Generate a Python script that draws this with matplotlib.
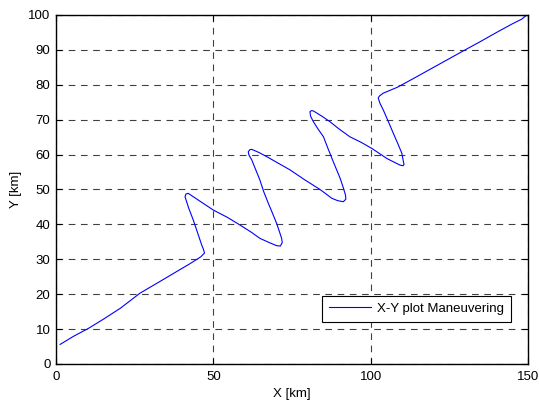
import matplotlib
matplotlib.use("Agg")
import matplotlib.pyplot as plt

# X-Y track of the maneuvering target
x_km = [1.3, 5.5, 10.3, 15.0, 20.5, 26.7, 32.0, 38.0, 42.5, 46.0, 47.2, 46.8,
        46.3, 45.0, 43.6, 42.2, 41.0, 41.3, 42.0, 46.0, 50.0, 54.5, 58.5,
        62.0, 64.8, 67.5, 70.1, 71.3, 71.9, 71.7, 70.9, 70.1, 68.8, 67.5,
        66.0, 64.8, 63.5, 62.2, 61.3, 61.1, 61.6, 62.2, 64.5, 67.0, 70.5,
        74.4, 79.0, 83.9, 86.0, 87.6, 89.5, 91.3, 92.1, 92.0, 91.2, 90.3,
        89.2, 88.1, 86.5, 85.0, 83.3, 81.8, 80.9, 80.7, 81.2, 81.8, 84.5,
        87.1, 90.0, 93.4, 97.0, 100.3, 102.8, 105.1, 107.3, 109.3, 110.3,
        110.6, 110.4, 109.9, 108.6, 107.2, 105.6, 104.0, 103.0, 102.4, 102.8,
        104.0, 108.5, 113.6, 118.8, 124.2, 129.4, 134.7, 140.0, 145.3, 148.0,
        149.6]
y_km = [5.6, 7.9, 10.2, 12.8, 16.0, 20.3, 23.1, 26.3, 28.7, 30.7, 31.8, 33.0,
        34.1, 37.6, 41.3, 44.6, 47.9, 48.7, 48.9, 46.5, 44.1, 42.0, 39.8,
        37.8, 36.0, 34.9, 33.9, 33.8, 34.8, 36.0, 38.2, 40.3, 43.2, 46.0,
        49.4, 52.7, 55.6, 58.5, 59.9, 60.8, 61.4, 61.5, 60.6, 59.4, 57.6,
        55.6, 52.8, 50.0, 48.6, 47.5, 46.8, 46.5, 47.2, 48.4, 50.8, 53.2,
        55.6, 58.0, 61.6, 65.1, 67.3, 69.4, 71.0, 72.3, 72.6, 72.5, 71.0,
        69.4, 67.3, 65.1, 63.5, 61.8, 60.3, 58.9, 57.9, 57.0, 56.8, 57.2,
        58.0, 60.4, 63.2, 66.1, 69.5, 72.8, 74.6, 76.2, 76.8, 77.6, 79.3,
        81.8, 84.4, 87.1, 89.7, 92.3, 95.0, 97.6, 98.8, 100.0]

x_ticks = [0, 50, 100, 150]
y_ticks = list(range(0, 101, 10))

plt.rcParams['font.family'] = ['Liberation Sans', 'DejaVu Sans']
plt.rcParams['font.size'] = 9.5

fig = plt.figure(figsize=(5.39, 4.03), dpi=100)
ax = fig.add_axes([0.1039, 0.0968, 0.8757, 0.866])

ax.plot(x_km, y_km, color='#0000ff', linewidth=0.8, label='X-Y plot Maneuvering')

ax.set_xlim(0, 150)
ax.set_ylim(0, 100)
ax.set_xticks(x_ticks)
ax.set_yticks(y_ticks)
ax.grid(True, color='black', linestyle=(0, (6, 5)), linewidth=0.8, alpha=0.75)
ax.tick_params(direction='in', top=True, right=True, length=4, width=0.8,
               labelsize=9.5, colors='black')
ax.tick_params(axis='x', pad=5)
ax.tick_params(axis='y', pad=4)
for sp in ax.spines.values():
    sp.set_linewidth(1.0)

ax.set_xlabel('X [km]', fontsize=9.5)
ax.set_ylabel('Y [km]', fontsize=9.5)
ax.xaxis.set_label_coords(0.5, -0.086)
ax.xaxis.label.set_va('center')
ax.yaxis.set_label_coords(-0.085, 0.5)
ax.yaxis.label.set_va('center')

leg = ax.legend(loc='lower right', bbox_to_anchor=(0.964, 0.1195), borderaxespad=0,
                fancybox=False, framealpha=1, edgecolor='black', fontsize=9.5,
                handlelength=3.2, handletextpad=0.4, borderpad=0.55)
leg.get_frame().set_linewidth(0.8)

fig.savefig('out.png', dpi=100)
